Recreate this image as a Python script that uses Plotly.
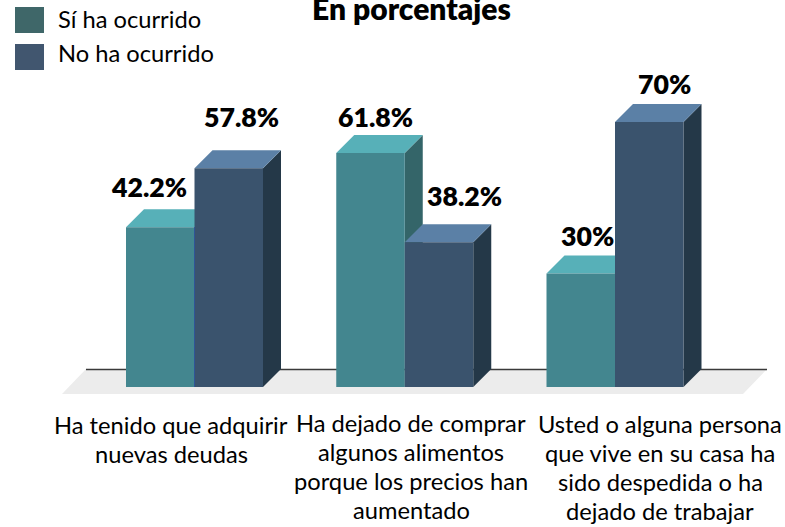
import plotly.graph_objects as go

categories = [
    "Ha tenido que adquirir<br>nuevas deudas",
    "Ha dejado de comprar<br>algunos alimentos<br>porque los precios han<br>aumentado",
    "Usted o alguna persona<br>que vive en su casa ha<br>sido despedida o ha<br>dejado de trabajar",
]
series_names = ["Sí ha ocurrido", "No ha ocurrido"]
si_values = [42.2, 61.8, 30]
no_values = [57.8, 38.2, 70]
value_labels_si = ["42.2%", "61.8%", "30%"]
value_labels_no = ["57.8%", "38.2%", "70%"]

W, H = 785, 527
X0_PX, X_STEP = 194.5, 210.25
Y0_PX, Y_UNIT = 387.0, 3.786
BAR_W = 68.5 / X_STEP
DX = 18 / X_STEP
DY = 18 / Y_UNIT

FACE_SI = dict(front="#43868F", top="#57B0B8", side="#346569")
FACE_NO = dict(front="#3A536D", top="#5B80A6", side="#243848")
FONT = "Lato, 'Open Sans', sans-serif"


def px_x(p):
    return (p - X0_PX) / X_STEP


def px_y(p):
    return (Y0_PX - p) / Y_UNIT


def face(xs, ys, color, name):
    return go.Scatter(x=xs, y=ys, mode="lines", fill="toself", fillcolor=color,
                      line=dict(width=0, color=color), hoverinfo="text",
                      text=name, showlegend=False)


def bar3d(i, v, side, colors, name):
    x0 = i + (-BAR_W if side == 0 else 0)
    x1 = x0 + BAR_W
    return [
        face([x1, x1, x1 + DX, x1 + DX, x1], [0, v, v + DY, DY, 0], colors["side"], name),
        face([x0, x1, x1 + DX, x0 + DX, x0], [v, v, v + DY, v + DY, v], colors["top"], name),
        face([x0, x1, x1, x0, x0], [0, 0, v, v, 0], colors["front"], name),
    ]


fig = go.Figure()

# floor and back wall line
fig.add_trace(face([px_x(62), px_x(743), px_x(767), px_x(86), px_x(62)],
                   [px_y(394), px_y(394), px_y(369), px_y(369), px_y(394)],
                   "#ECECEC", "floor"))
fig.add_trace(go.Scatter(x=[px_x(86), px_x(767)], y=[px_y(369.5), px_y(369.5)], mode="lines",
                         line=dict(color="#3A3A3A", width=1.6), hoverinfo="skip", showlegend=False))

for i in range(len(categories)):
    for t in bar3d(i, si_values[i], 0, FACE_SI, series_names[0]):
        fig.add_trace(t)
    for t in bar3d(i, no_values[i], 1, FACE_NO, series_names[1]):
        fig.add_trace(t)

# thin blue seam between the first pair of bars
fig.add_trace(go.Scatter(x=[0, 0], y=[0, si_values[0]], mode="lines",
                         line=dict(color="#2F5597", width=1), hoverinfo="skip", showlegend=False))

annotations = []


def add_text(text, x, y, size, weight=400, anchor="center"):
    annotations.append(dict(
        text=text, x=x / W, y=1 - y / H, xref="paper", yref="paper",
        xanchor=anchor, yanchor="middle", showarrow=False, align="center",
        font=dict(family=FONT, size=size, color="#000000", weight=weight)))


add_text("En porcentajes", 411, 8, 30, weight=800)
add_text(series_names[0], 56, 19, 23.7, anchor="left")
add_text(series_names[1], 56, 53, 23.7, anchor="left")

label_si_pos = [(149, 187), (375, 117), (587, 236)]
label_no_pos = [(241, 117), (464, 196), (664, 84)]
for txt, (x, y) in zip(value_labels_si, label_si_pos):
    add_text(txt, x, y, 26.7, weight=800)
for txt, (x, y) in zip(value_labels_no, label_no_pos):
    add_text(txt, x, y, 26.7, weight=800)

category_pos = [(171, 425), (411, 423), (660, 424)]
LINE_STEP = 29
for txt, (x, y) in zip(categories, category_pos):
    for k, line in enumerate(txt.split("<br>")):
        add_text(line, x, y + k * LINE_STEP, 23.7)

shapes = [
    dict(type="rect", xref="paper", yref="paper", x0=15 / W, x1=44 / W, y0=1 - 33 / H, y1=1 - 7 / H,
         fillcolor="#3F6769", line=dict(width=0)),
    dict(type="rect", xref="paper", yref="paper", x0=15 / W, x1=44 / W, y0=1 - 70 / H, y1=1 - 44 / H,
         fillcolor="#41566F", line=dict(width=0)),
]

fig.update_layout(
    width=W, height=H, margin=dict(l=0, r=0, t=0, b=0),
    paper_bgcolor="white", plot_bgcolor="white", showlegend=False,
    xaxis=dict(range=[px_x(0), px_x(W)], visible=False, fixedrange=True),
    yaxis=dict(range=[px_y(H), px_y(0)], visible=False, fixedrange=True),
    annotations=annotations, shapes=shapes,
)
fig.write_html("out.html", config={"displayModeBar": False},
               post_script="document.body.style.margin='0';document.body.style.overflow='hidden';")
